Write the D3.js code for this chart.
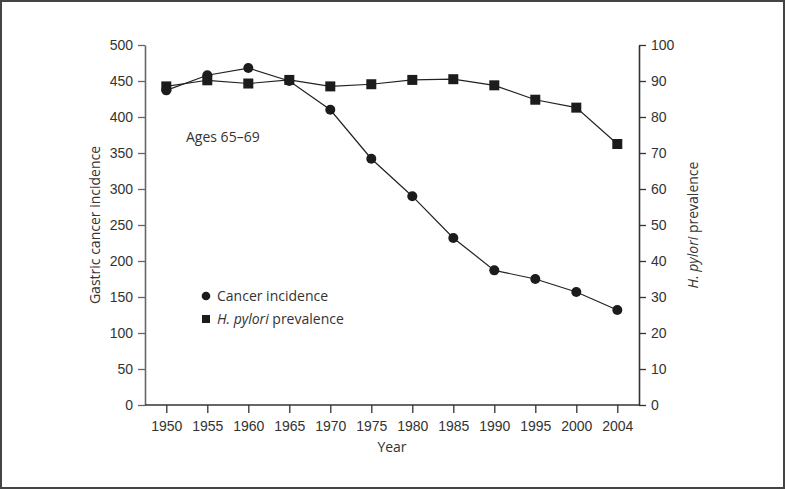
<!DOCTYPE html>
<html>
<head>
<meta charset="utf-8">
<script src="https://cdn.jsdelivr.net/npm/d3@7"></script>
<style>
  html, body { margin: 0; padding: 0; background: #fff; }
  svg { display: block; font-family: "Open Sans", "Noto Sans", sans-serif; }
</style>
</head>
<body>
<svg id="chart" width="785" height="489"></svg>
<script>
const years = ["1950","1955","1960","1965","1970","1975","1980","1985","1990","1995","2000","2004"];
const cancerIncidence = [437, 458, 468, 450, 410, 342, 290, 232, 187, 175, 157, 132];
const hpyloriPrevalence = [88.5, 90.2, 89.3, 90.3, 88.5, 89.1, 90.3, 90.5, 88.8, 84.8, 82.6, 72.5];
const leftTicks = [0,50,100,150,200,250,300,350,400,450,500];
const rightTicks = [0,10,20,30,40,50,60,70,80,90,100];

const svg = d3.select("#chart");
const ink = "#222";
const textCol = "#333";

// frame
svg.append("rect").attr("x",1).attr("y",1).attr("width",783).attr("height",487)
  .attr("fill","none").attr("stroke","#444").attr("stroke-width",2);

const xLeft = 145, xRight = 639, yTop = 45, yBottom = 405;

const x = d3.scalePoint().domain(years).range([166.3, 617.3]);
const yL = d3.scaleLinear().domain([0,500]).range([yBottom, yTop]);
const yR = d3.scaleLinear().domain([0,100]).range([yBottom, yTop]);

function styleAxis(g, col){
  g.selectAll("line").attr("stroke", col).attr("stroke-width",1.3);
  g.selectAll("path.domain").attr("stroke", col).attr("stroke-width",1.6);
  g.selectAll("text").attr("fill", textCol).style("font-size","14px");
}

// left axis
const gL = svg.append("g").attr("transform",`translate(${xLeft},0)`)
  .call(d3.axisLeft(yL).tickValues(leftTicks).tickSize(7).tickSizeOuter(0).tickPadding(5));
styleAxis(gL, "#666");

// right axis
const gR = svg.append("g").attr("transform",`translate(${xRight},0)`)
  .call(d3.axisRight(yR).tickValues(rightTicks).tickSize(7).tickSizeOuter(0).tickPadding(5));
styleAxis(gR, "#333");

// bottom axis
const gB = svg.append("g").attr("transform",`translate(0,${yBottom})`)
  .call(d3.axisBottom(x).tickSize(8).tickSizeOuter(0).tickPadding(8));
gB.select("path.domain").remove();
styleAxis(gB, "#333");
svg.append("line").attr("x1",xLeft).attr("x2",xRight).attr("y1",yBottom).attr("y2",yBottom)
  .attr("stroke","#333").attr("stroke-width",1.6);

// axis titles
svg.append("text").attr("x",392).attr("y",452).attr("text-anchor","middle")
  .attr("fill",textCol).style("font-size","14px").text("Year");
svg.append("text").attr("transform","translate(100,225) rotate(-90)").attr("text-anchor","middle")
  .attr("fill",textCol).style("font-size","14px").text("Gastric cancer incidence");
const rt = svg.append("text").attr("transform","translate(698,225) rotate(-90)").attr("text-anchor","middle")
  .attr("fill",textCol).style("font-size","14px");
rt.append("tspan").style("font-style","italic").text("H. pylori");
rt.append("tspan").text(" prevalence");

// annotation
svg.append("text").attr("x",186).attr("y",142).attr("fill",textCol).style("font-size","14px").text("Ages 65–69");

// lines
const lineC = d3.line().x((d,i)=>x(years[i])).y(d=>yL(d));
const lineH = d3.line().x((d,i)=>x(years[i])).y(d=>yR(d));
svg.append("path").datum(hpyloriPrevalence).attr("d",lineH).attr("fill","none").attr("stroke",ink).attr("stroke-width",1.2);
svg.append("path").datum(cancerIncidence).attr("d",lineC).attr("fill","none").attr("stroke",ink).attr("stroke-width",1.2);

// markers
svg.append("g").selectAll("rect").data(hpyloriPrevalence).join("rect")
  .attr("x",(d,i)=>x(years[i])-5).attr("y",d=>yR(d)-5).attr("width",10).attr("height",10).attr("fill","#1c1c1c");
svg.append("g").selectAll("circle").data(cancerIncidence).join("circle")
  .attr("cx",(d,i)=>x(years[i])).attr("cy",d=>yL(d)).attr("r",5).attr("fill","#1c1c1c");

// legend
const leg = svg.append("g");
leg.append("circle").attr("cx",206).attr("cy",296).attr("r",4.3).attr("fill","#1c1c1c");
leg.append("text").attr("x",217).attr("y",301).attr("fill",textCol).style("font-size","14px").text("Cancer incidence");
leg.append("rect").attr("x",202).attr("y",315).attr("width",8).attr("height",8).attr("fill","#1c1c1c");
const lt = leg.append("text").attr("x",217).attr("y",324).attr("fill",textCol).style("font-size","14px");
lt.append("tspan").style("font-style","italic").text("H. pylori");
lt.append("tspan").text(" prevalence");
</script>
</body>
</html>
